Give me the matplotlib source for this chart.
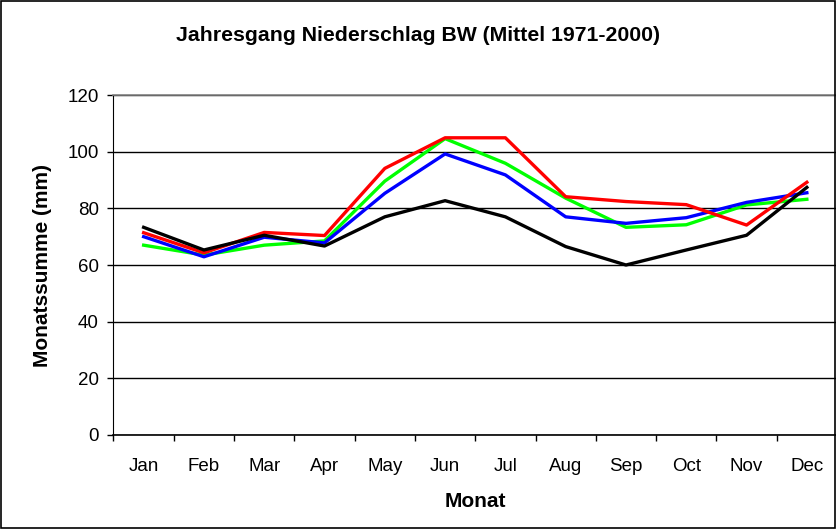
import matplotlib.pyplot as plt
import numpy as np

plt.rcParams['font.family'] = ['Liberation Sans', 'DejaVu Sans']

months = ['Jan', 'Feb', 'Mar', 'Apr', 'May', 'Jun', 'Jul', 'Aug', 'Sep', 'Oct', 'Nov', 'Dec']

# monthly precipitation (mm), four series
black = [73.3, 65.3, 70.5, 66.7, 77.0, 82.7, 77.0, 66.5, 60.0, 65.3, 70.5, 87.4]
red = [71.4, 64.3, 71.5, 70.4, 94.1, 104.9, 104.9, 84.1, 82.4, 81.3, 74.1, 89.2]
blue = [70.0, 62.9, 69.8, 67.8, 85.3, 99.2, 91.8, 77.0, 74.7, 76.7, 82.1, 85.5]
green = [67.0, 63.5, 67.0, 68.5, 89.6, 104.6, 95.9, 83.6, 73.3, 74.2, 81.2, 83.2]

fig = plt.figure(figsize=(8.37, 5.29), dpi=100)
fig.patches.append(plt.Rectangle((0.001, 0.001), 0.997, 0.997, transform=fig.transFigure,
                                 fill=False, edgecolor='black', linewidth=1.2))
ax = fig.add_axes([0.1356, 0.1777, 0.8644, 0.6427])

x = np.arange(len(months))
ax.plot(x, green, color='#00ff00', linewidth=2.4, zorder=3)
ax.plot(x, blue, color='#0000ff', linewidth=2.4, zorder=4)
ax.plot(x, red, color='#ff0000', linewidth=2.4, zorder=5)
ax.plot(x, black, color='black', linewidth=2.4, zorder=6)

ax.set_xlim(-0.5, 11.5)
ax.set_ylim(0, 120)
ax.set_yticks(np.arange(0, 121, 20))
ax.yaxis.grid(True, color='black', linewidth=1)
ax.set_axisbelow(True)

ax.set_xticks(x)
ax.set_xticklabels(months, fontsize=13.5)
ax.set_xticks(np.arange(-0.5, 12, 1), minor=True)
ax.tick_params(axis='x', which='major', length=0, pad=16.5)
ax.tick_params(axis='x', which='minor', length=4.5, width=1, color='black')
ax.tick_params(axis='y', length=4.5, width=1, labelsize=13.5, pad=6)

ax.spines['right'].set_visible(False)
ax.spines['top'].set_color('#808080')
ax.spines['top'].set_linewidth(1.2)
ax.spines['left'].set_color('black')
ax.spines['bottom'].set_color('black')
ax.spines['bottom'].set_linewidth(1.2)

ax.set_xlabel('Monat', fontsize=15, fontweight='bold', labelpad=12)
ax.set_ylabel('Monatssumme (mm)', fontsize=15, fontweight='bold', labelpad=11)
fig.text(0.5, 0.932, 'Jahresgang Niederschlag BW (Mittel 1971-2000)', ha='center', va='center',
         fontsize=15.3, fontweight='bold')

plt.savefig('out.png', dpi=100)
